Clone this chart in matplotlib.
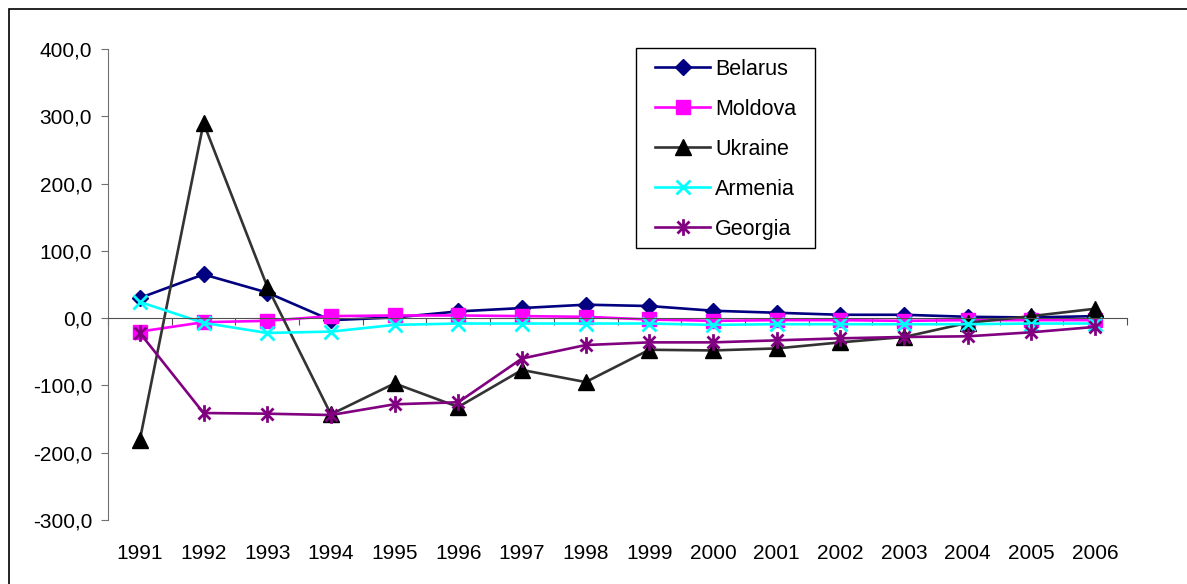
import matplotlib.pyplot as plt
import matplotlib.patches as mpatches
from matplotlib.path import Path
from matplotlib.ticker import FuncFormatter, FixedLocator

plt.rcParams['font.family'] = ['Liberation Sans', 'DejaVu Sans']

years = ['1991', '1992', '1993', '1994', '1995', '1996', '1997', '1998',
         '1999', '2000', '2001', '2002', '2003', '2004', '2005', '2006']

belarus = [30, 65, 38, -3, 1, 10, 15, 20, 18, 11, 8, 5, 5, 2, 1, 3]
moldova = [-20, -6, -4, 3, 4, 4, 3, 2, -2, -4, -3, -3, -4, -3, -3, -3]
ukraine = [-181, 290, 47, -143, -97, -132, -77, -95, -47, -48, -45, -36, -28, -7, 3, 14]
armenia = [24, -7, -22, -20, -10, -8, -8, -8, -8, -10, -9, -9, -9, -9, -8, -8]
georgia = [-22, -141, -142, -144, -128, -125, -60, -40, -36, -36, -33, -30, -28, -27, -21, -13]

y_ticks = [-300, -200, -100, 0, 100, 200, 300, 400]

# excel-like star: vertical bar plus an x
star = Path([(0, -1), (0, 1), (-0.72, -0.72), (0.72, 0.72), (-0.72, 0.72), (0.72, -0.72)],
            [Path.MOVETO, Path.LINETO, Path.MOVETO, Path.LINETO, Path.MOVETO, Path.LINETO])

fig = plt.figure(figsize=(11.87, 5.84), dpi=100)
ax = fig.add_axes([108 / 1187, 1 - 520 / 584, 1019 / 1187, 471 / 584])

x = list(range(len(years)))
lw = 1.9
ax.plot(x, belarus, color='#000080', lw=lw, marker='D', ms=8.5, label='Belarus')
ax.plot(x, moldova, color='#FF00FF', lw=lw, marker='s', ms=10, label='Moldova')
ax.plot(x, ukraine, color='#333333', lw=lw, marker='^', ms=11,
        markerfacecolor='black', markeredgecolor='black', label='Ukraine')
ax.plot(x, armenia, color='#00FFFF', lw=lw, marker='x', ms=10, mew=2, label='Armenia')
ax.plot(x, georgia, color='#800080', lw=lw, marker=star, ms=12, mew=2, label='Georgia')

ax.set_xlim(-0.5, len(years) - 0.5)
ax.set_ylim(-300, 400)

for s in ['top', 'right']:
    ax.spines[s].set_visible(False)
ax.spines['left'].set_color('#707070')
ax.spines['bottom'].set_position(('data', 0))
ax.spines['bottom'].set_color('#505050')

ax.xaxis.set_major_locator(FixedLocator([i - 0.5 for i in range(len(years) + 1)]))
ax.tick_params(axis='x', direction='out', length=5, color='#505050', labelbottom=False)
ax.set_yticks(y_ticks)
ax.yaxis.set_major_formatter(FuncFormatter(lambda v, p: f"{v:.1f}".replace('.', ',')))
ax.tick_params(axis='y', direction='out', length=5, color='#707070', labelsize=15, pad=6.5)

sec = ax.secondary_xaxis('bottom')
sec.set_xticks(x)
sec.set_xticklabels(years)
sec.tick_params(length=0, labelsize=15, pad=17)
sec.spines['bottom'].set_visible(False)

leg = fig.legend(loc='upper left', bbox_to_anchor=(655 / 1187, 1 - 59 / 584),
                 fontsize=15.5, frameon=False, borderpad=0, borderaxespad=0,
                 handlelength=2.56, handletextpad=0.23, labelspacing=0.88)

# legend frame drawn separately for exact placement
fig.patches.append(mpatches.Rectangle((636 / 1187, 1 - 248 / 584), 179 / 1187, 200 / 584,
                                      transform=fig.transFigure, fill=False,
                                      edgecolor='black', lw=1.0))

# outer chart border
fig.patches.append(mpatches.Rectangle((9 / 1187, -0.1), 1.2, 1 - 9 / 584 + 0.1,
                                      transform=fig.transFigure, fill=False,
                                      edgecolor='black', lw=1.2))

fig.savefig('out.png', dpi=100)
